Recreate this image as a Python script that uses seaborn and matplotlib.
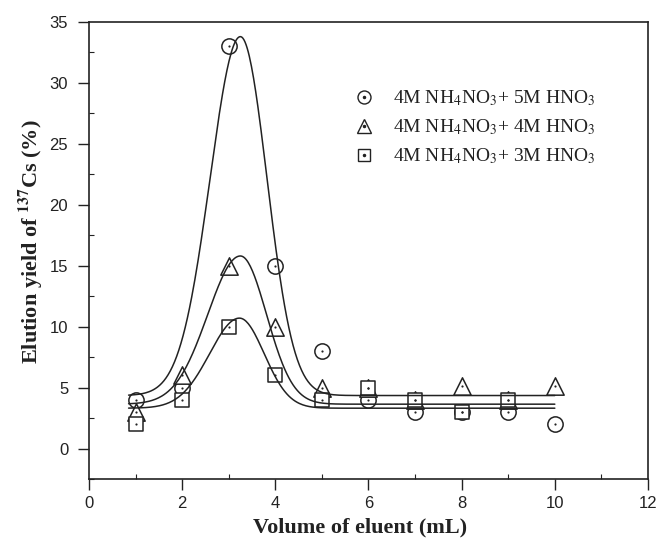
import numpy as np
import pandas as pd
import matplotlib
matplotlib.use("Agg")
import matplotlib.pyplot as plt
from matplotlib.lines import Line2D
from matplotlib.ticker import MultipleLocator
import seaborn as sns

# ---- data ----
volume = [1, 2, 3, 4, 5, 6, 7, 8, 9, 10]
yield_5M = [4, 5, 33, 15, 8, 4, 3, 3, 3, 2]          # circles
yield_4M = [3, 6, 15, 10, 5, 5, 4, 5.1, 4, 5.1]      # triangles
yield_3M = [2, 4, 10, 6, 4, 5, 4, 3, 4]              # squares (no point at 10)
volume_3M = [1, 2, 3, 4, 5, 6, 7, 8, 9]

series_names = [r"4M NH$_4$NO$_3$+ 5M HNO$_3$",
                r"4M NH$_4$NO$_3$+ 4M HNO$_3$",
                r"4M NH$_4$NO$_3$+ 3M HNO$_3$"]

# peak-fit parameters (baseline, peak, centre, left/right widths)
fit_base = [4.35, 3.64, 3.31]
fit_peak = [33.8, 15.8, 10.7]
fit_center = [3.25, 3.25, 3.23]
fit_wl = [0.65, 0.70, 0.64]
fit_wr = [0.57, 0.56, 0.53]
fit_range = [0.85, 10.0]

x_ticks = [0, 2, 4, 6, 8, 10, 12]
y_ticks = [0, 5, 10, 15, 20, 25, 30, 35]

# ---- build tables ----
pts = pd.concat([
    pd.DataFrame({"volume": volume, "yield": yield_5M, "series": series_names[0]}),
    pd.DataFrame({"volume": volume, "yield": yield_4M, "series": series_names[1]}),
    pd.DataFrame({"volume": volume_3M, "yield": yield_3M, "series": series_names[2]}),
], ignore_index=True)

xx = np.linspace(fit_range[0], fit_range[1], 400)
curves = []
for name, b, p, c, wl, wr in zip(series_names, fit_base, fit_peak, fit_center, fit_wl, fit_wr):
    w = np.where(xx < c, wl, wr)
    yy = b + (p - b) * np.exp(-(xx - c) ** 2 / (2 * w ** 2))
    curves.append(pd.DataFrame({"volume": xx, "yield": yy, "series": name}))
curves = pd.concat(curves, ignore_index=True)

# ---- plot ----
sns.set_theme(style="ticks")
plt.rcParams["font.family"] = ["Liberation Sans", "DejaVu Sans"]
plt.rcParams["mathtext.fontset"] = "stix"

fig = plt.figure(figsize=(6.59, 5.41), dpi=100)
ax = fig.add_axes([89 / 659, 1 - 479 / 541, (648 - 89) / 659, (479 - 22) / 541])

ink = "#222222"
markers = ["o", "^", "s"]
msizes = [11, 12.5, 10.5]
handles = []
for name, m, ms in zip(series_names, markers, msizes):
    sub = pts[pts["series"] == name]
    sns.scatterplot(data=sub, x="volume", y="yield", marker=m, s=ms ** 2,
                    facecolor="white", edgecolor=ink, linewidth=1.1, ax=ax,
                    zorder=3, legend=False)
    sns.scatterplot(data=sub, x="volume", y="yield", marker="o", s=2.5,
                    color=ink, linewidth=0, ax=ax, zorder=4, legend=False)
    h = Line2D([], [], marker=m, markersize=ms * 0.85, markerfacecolor="white",
               markeredgecolor=ink, markeredgewidth=1.0, linestyle="none")
    d = Line2D([], [], marker="o", markersize=1.5, color=ink, linestyle="none")
    handles.append((h, d))

sns.lineplot(data=curves, x="volume", y="yield", units="series", estimator=None,
             color=ink, linewidth=1.1, ax=ax, zorder=5, legend=False)

ax.set_xlim(0, 12)
ax.set_ylim(-2.5, 35)
ax.set_xticks(x_ticks)
ax.set_yticks(y_ticks)
ax.xaxis.set_minor_locator(MultipleLocator(1))
ax.yaxis.set_minor_locator(MultipleLocator(2.5))
ax.tick_params(which="major", direction="out", length=8, width=1.0, labelsize=12,
               colors=ink, labelcolor="#222222")
ax.tick_params(axis="y", which="major", pad=7)
ax.tick_params(axis="x", which="major", pad=4)
ax.tick_params(which="minor", direction="in", length=3.5, width=0.8, colors=ink)
ax.tick_params(top=False, right=False, which="both")
for sp in ax.spines.values():
    sp.set_visible(True)
    sp.set_linewidth(1.2)
    sp.set_color(ink)

ax.set_xlabel("Volume of eluent (mL)", fontfamily="Liberation Serif", fontweight="bold",
              fontsize=16, color=ink)
ax.xaxis.set_label_coords((360 - 89) / 559, -0.085)
ax.set_ylabel(r"Elution yield of $^{\mathbf{137}}$Cs (%)", fontfamily="Liberation Serif",
              fontweight="bold", fontsize=16, color=ink)
ax.yaxis.set_label_coords(-0.078, 0.52)

leg = ax.legend(handles=handles, labels=series_names, loc="upper left",
                bbox_to_anchor=(0.44, 0.893), frameon=False,
                prop={"family": "Liberation Serif", "size": 14},
                handletextpad=0.9, labelspacing=0.48, handlelength=1.2)
for t in leg.get_texts():
    t.set_color(ink)

fig.savefig("out.png", dpi=100)
